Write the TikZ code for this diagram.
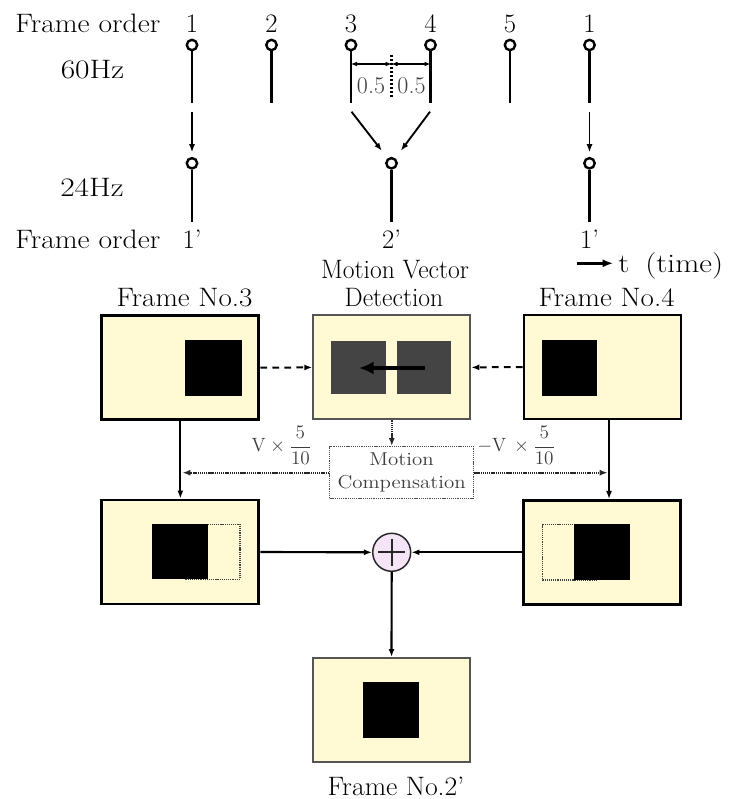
\documentclass[tikz,border=0pt]{standalone}
\usepackage{graphicx}
\usetikzlibrary{arrows.meta}
\definecolor{cream}{RGB}{255,250,212}
\definecolor{boxgray}{RGB}{85,85,85}
\definecolor{blockgray}{RGB}{68,68,68}
\definecolor{lavender}{RGB}{245,228,245}
\definecolor{labelgray}{RGB}{60,60,60}
% horizontally stretched text
\newcommand\xs[2]{\scalebox{#1}[1]{#2}}
\begin{document}
\begin{tikzpicture}[x=0.75pt,y=-0.75pt,
  lbl/.style={inner sep=0pt, anchor=base, font=\fontsize{20}{24}\selectfont},
  knob/.style={circle, draw, line width=1.8pt, minimum size=7.8pt, inner sep=0pt, fill=white},
  stemline/.style={line width=1.9pt},
  arr/.style={-{Latex[length=6pt,width=4.5pt]}},
  frm/.style={draw=black, line width=2.2pt, fill=cream, minimum width=117.75pt, minimum height=78pt, inner sep=0pt},
  pnl/.style={draw=boxgray, line width=1.5pt, fill=cream, minimum width=117.75pt, minimum height=78pt, inner sep=0pt},
  dashline/.style={dash pattern=on 5pt off 4pt, line width=1.5pt},
  dotline/.style={dash pattern=on 1pt off 0.6pt, line width=1.5pt, draw=black!85},
  dotsq/.style={dash pattern=on 0.9pt off 0.7pt, line width=1pt, draw=black!75},
  frac/.style={inner sep=0pt, font=\fontsize{15}{18}\selectfont, text=labelgray},
  mcbox/.style={draw=black!70, dash pattern=on 0.8pt off 0.6pt, line width=0.9pt,
    minimum width=108pt, minimum height=39pt, inner sep=0pt, align=center,
    font=\fontsize{14}{17}\selectfont, text=labelgray},
  sumnode/.style={circle, draw=black!85, line width=1.1pt, fill=lavender, minimum size=28.5pt, inner sep=0pt,
    path picture={
      \draw[line width=1.5pt] ([xshift=-10pt]path picture bounding box.center) -- ([xshift=10pt]path picture bounding box.center);
      \draw[line width=1.5pt] ([yshift=-10pt]path picture bounding box.center) -- ([yshift=10pt]path picture bounding box.center);
    }}
]
\useasboundingbox (0,0) rectangle (737,799);

% ---------- 60 Hz frame sequence ----------
\node[lbl, anchor=base west] (ord60) at (15,33) {\xs{1.11}{Frame order}};
\node[lbl] (hz60) at (92.5,78.3) {\xs{1.18}{60Hz}};
\foreach \n/\x/\t in {1/192/1, 2/271.5/2, 3/351/3, 4/430.5/4, 5/510/5, 6/589.5/1} {
  \node[lbl] (num\n) at (\x,33) {\t};
  \node[knob] (p\n) at (\x,45) {};
  \coordinate (q\n) at (\x,103.3);
  \draw[stemline] (p\n.south) -- (q\n);
}

% half-interval marks between frames 3 and 4
\coordinate (m3) at (351,64);
\coordinate (mc) at (391.5,64);
\coordinate (m4) at (430.5,64);
\draw[{Latex[length=4.5pt,width=3.5pt]}-{Latex[length=4.5pt,width=3.5pt]}, line width=0.8pt] (m3) -- (mc);
\draw[{Latex[length=4.5pt,width=3.5pt]}-{Latex[length=4.5pt,width=3.5pt]}, line width=0.8pt] (mc) -- (m4);
\coordinate (v1) at (391.5,55);
\coordinate (v2) at (391.5,98);
\draw[dash pattern=on 1.5pt off 1.5pt, line width=1.6pt] (v1) -- (v2);
\node[inner sep=0pt, font=\fontsize{18}{21}\selectfont, text=labelgray] (h1) at (371,86) {0.5};
\node[inner sep=0pt, font=\fontsize{18}{21}\selectfont, text=labelgray] (h2) at (411.5,86) {0.5};

% ---------- 24 Hz frame sequence ----------
\node[lbl] (hz24) at (92,196.7) {\xs{1.18}{24Hz}};
\foreach \n/\x in {1/192, 2/391.5, 3/589.5} {
  \node[knob] (r\n) at (\x,163.3) {};
  \coordinate (e\n) at (\x,221.7);
  \draw[stemline] (r\n.south) -- (e\n);
}
\node[lbl, anchor=base west] (ord24) at (15,248) {\xs{1.11}{Frame order}};
\node[lbl] (o1) at (192,248) {1'};
\node[lbl] (o2) at (391.5,248) {2'};
\node[lbl] (o3) at (589.5,248) {1'};

% frame conversion arrows
\coordinate (a1) at (192,111.7);
\coordinate (a6) at (589.5,111.7);
\coordinate (a3) at (351.5,111.7);
\coordinate (a4) at (430,111.7);
\draw[arr, line width=1.1pt, shorten >=3.5pt] (a1) -- (r1.north);
\draw[arr, line width=1.1pt, shorten >=3.5pt] (a6) -- (r3.north);
\draw[arr, line width=1.4pt, shorten >=7pt] (a3) -- (r2);
\draw[arr, line width=1.4pt, shorten >=7pt] (a4) -- (r2);

% time axis
\node[lbl, anchor=base west] (tm) at (618,272) {\xs{1.17}{t\hspace{10.3pt}(time)}};
\coordinate (ts) at (576.7,263.3);
\draw[-{Latex[length=8pt,width=6pt]}, line width=2pt, shorten >=3.5pt] (ts) -- (ts -| tm.west);

% ---------- interpolation block diagram ----------
\node[lbl] (mvt1) at (395,278.3) {\xs{0.96}{Motion Vector}};
\node[lbl] (mvt2) at (394,306.7) {\xs{0.96}{Detection}};
\node[lbl] (f3t) at (184.6,306.5) {\xs{1.09}{Frame No.3}};
\node[lbl] (f4t) at (606.7,306.5) {\xs{1.09}{Frame No.4}};
\node[lbl] (f2t) at (396,795) {\xs{1.04}{Frame No.2'}};

\node[frm] (F3) at (180.4,367.7) {};
\node[pnl] (MV) at (391.8,367.4) {};
\node[frm] (F4) at (602.5,367) {};
\node[frm] (L) at (180.4,552) {};
\node[frm] (R) at (602.3,552.3) {};
\node[pnl] (O) at (391.5,710) {};
\node[mcbox] (MC) at (401.6,472.7) {\xs{1.12}{Motion}\\\xs{1.12}{Compensation}};
\node[sumnode] (S) at (391.7,552.3) {};

% picture contents
\fill (185,340) rectangle (241.7,395.7);
\fill[blockgray] (331.3,341.3) rectangle (385.7,394.3);
\fill[blockgray] (397.3,341.3) rectangle (451.3,394.3);
\coordinate (mvA) at (425,368);
\coordinate (mvB) at (359,368);
\draw[line width=3pt, -{Latex[length=11pt,width=10pt]}] (mvA) -- (mvB);
\fill (541.7,340) rectangle (597.3,395.7);
\draw[dotsq] (185,524.3) rectangle (240,579.3);
\fill (152.3,524.3) rectangle (208.3,579.3);
\draw[dotsq] (542.7,524.3) rectangle (597.3,580);
\fill (574.3,524.3) rectangle (630.3,580);
\fill (363.3,681.7) rectangle (419.3,738.3);

% connectors
\draw[dashline, arr] (F3.east) -- (MV.west);
\draw[dashline, arr] (F4.west) -- (MV.east);
\draw[dotline, arr] (MV.south) -- (MV.south |- MC.north);
\draw[dotline, arr, shorten >=1.5pt] (MC.west) -- (MC.west -| F3.south);
\coordinate (F4d) at (609,0 |- F4.south);
\draw[arr, line width=0.9pt] (F4d) -- (F4d |- R.north);
\draw[dotline, arr, shorten >=1pt] (MC.east) -- (MC.east -| F4d);
\draw[arr, line width=1.6pt] (F3.south) -- (L.north);
\draw[arr, line width=1.6pt] (L.east) -- (S.west);
\draw[arr, line width=1.6pt] (R.west) -- (S.east);
\draw[arr, line width=1.6pt] (S.south) -- (O.north);

% scaling factors
\node[frac, anchor=base east] (kL) at (311.7,451.7) {$\mathrm{V}\times\displaystyle\frac{5}{10}$};
\node[frac, anchor=base west] (kR) at (477,451.7) {$-\mathrm{V}\,\times\displaystyle\frac{5}{10}$};
\end{tikzpicture}
\end{document}
